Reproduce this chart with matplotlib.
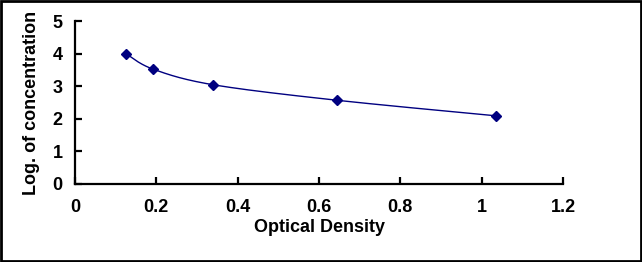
import numpy as np
import matplotlib
matplotlib.use("Agg")
import matplotlib.pyplot as plt
from matplotlib.patches import Rectangle
from matplotlib import font_manager

od = [0.125, 0.192, 0.339, 0.644, 1.035]
logc = [4.0, 3.523, 3.046, 2.569, 2.092]
xticks = [0, 0.2, 0.4, 0.6, 0.8, 1, 1.2]
xticklabels = ["0", "0.2", "0.4", "0.6", "0.8", "1", "1.2"]
yticks = [0, 1, 2, 3, 4, 5]

plt.rcParams['font.family'] = ['Liberation Sans', 'DejaVu Sans']
plt.rcParams['font.weight'] = 'bold'
fp = font_manager.FontProperties(family=['Liberation Sans', 'DejaVu Sans'], weight='bold', size=13)

fig = plt.figure(figsize=(6.42, 2.62), dpi=100)
ax = fig.add_axes([75/642, 1-184/262, (563-75)/642, (184-21)/262])

x = np.array(od); y = np.array(logc)
n = len(x)
px = np.concatenate([[x[0]], x, [x[-1]]])
py = np.concatenate([[y[0]], y, [y[-1]]])
cx, cy = [], []
t = np.linspace(0, 1, 40)
for i in range(n - 1):
    p0 = np.array([x[i], y[i]]); p3 = np.array([x[i+1], y[i+1]])
    pm = np.array([px[i], py[i]]); pp = np.array([px[i+3], py[i+3]])
    c1 = p0 + (p3 - pm) / 6
    c2 = p3 - (pp - p0) / 6
    seg = ((1-t)**3)[:, None]*p0 + (3*(1-t)**2*t)[:, None]*c1 + (3*(1-t)*t**2)[:, None]*c2 + (t**3)[:, None]*p3
    cx.extend(seg[:, 0]); cy.extend(seg[:, 1])
ax.plot(cx, cy, color='#000080', lw=1.0)
ax.plot(od, logc, linestyle='none', marker='D', markersize=5.5, color='#000080')

ax.set_xlim(0, 1.2)
ax.set_ylim(0, 5)
ax.set_xticks(xticks)
ax.set_xticklabels(xticklabels, fontproperties=fp)
ax.set_yticks(yticks)
ax.set_yticklabels([str(v) for v in yticks], fontproperties=fp)
for s in ['top', 'right']:
    ax.spines[s].set_visible(False)
for s in ['left', 'bottom']:
    ax.spines[s].set_linewidth(1.6)
ax.tick_params(direction='in', length=5, width=1.6)
ax.tick_params(axis='x', pad=11)
ax.tick_params(axis='y', pad=9)
ax.set_xlabel('Optical Density', fontproperties=fp, labelpad=2)
ax.set_ylabel('Log. of concentration', fontproperties=fp, labelpad=9)

fig.patches.append(Rectangle((0.002, 0.004), 0.996, 0.992, transform=fig.transFigure,
                             fill=False, edgecolor='black', linewidth=2))
fig.savefig('out.png', dpi=100)
